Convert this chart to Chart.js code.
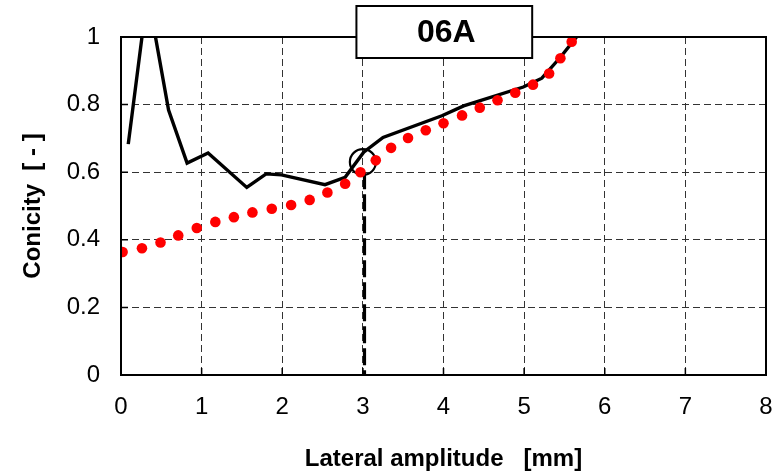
<!DOCTYPE html>
<html>
<head>
<meta charset="utf-8">
<script src="https://cdn.jsdelivr.net/npm/chart.js@4/dist/chart.umd.min.js"></script>
<style>
html,body{margin:0;padding:0;background:#fff;}
#wrap{width:774px;height:475px;position:relative;}
</style>
</head>
<body>
<div id="wrap"><canvas id="c" width="774" height="475"></canvas></div>
<script>
// Measured conicity curve (black line)
const measuredX = [0.09, 0.33, 0.59, 0.82, 1.08, 1.56, 1.80, 1.99, 2.53, 2.78, 3.01, 3.25, 3.98, 4.25, 4.99, 5.22, 5.45, 5.65];
const measuredY = [0.683, 1.13, 0.784, 0.627, 0.657, 0.555, 0.595, 0.592, 0.563, 0.585, 0.659, 0.703, 0.767, 0.796, 0.852, 0.878, 0.94, 1.0];
// Equivalent conicity (red dots)
const fitX = [0.02, 0.26, 0.49, 0.71, 0.94, 1.17, 1.40, 1.63, 1.87, 2.11, 2.34, 2.56, 2.78, 2.97, 3.16, 3.35, 3.56, 3.78, 4.00, 4.23, 4.45, 4.67, 4.89, 5.11, 5.31, 5.45, 5.59];
const fitY = [0.364, 0.375, 0.392, 0.413, 0.435, 0.453, 0.467, 0.481, 0.492, 0.503, 0.518, 0.540, 0.566, 0.600, 0.635, 0.672, 0.701, 0.724, 0.745, 0.768, 0.791, 0.813, 0.835, 0.859, 0.892, 0.937, 0.986];
// Highlighted point and its marker down to the axis
const markX = [3.0];
const markY = [0.63];
const dropX = [3.02, 3.02];
const dropY = [0.6, 0];
// Axis ticks
const xTicks = [0, 1, 2, 3, 4, 5, 6, 7, 8];
const yTicks = [0, 0.2, 0.4, 0.6, 0.8, 1];
const titleLabel = "06A";
const labelRange = [2.92, 5.10];

const pts = (xs, ys) => xs.map((x, i) => ({x: x, y: ys[i]}));

const frame = {
  id: 'frame',
  afterDatasetsDraw(chart) {
    const {ctx, chartArea: a, scales: {x, y}} = chart;
    ctx.save();
    ctx.strokeStyle = '#000';
    ctx.lineWidth = 1.5;
    ctx.setLineDash([]);
    ctx.beginPath();
    yTicks.forEach(v => { const py = y.getPixelForValue(v); ctx.moveTo(a.left, py); ctx.lineTo(a.left + 7, py); });
    xTicks.forEach(v => { const px = x.getPixelForValue(v); ctx.moveTo(px, a.bottom); ctx.lineTo(px, a.bottom - 7); });
    ctx.stroke();
    ctx.lineWidth = 2;
    ctx.strokeRect(a.left, a.top, a.right - a.left, a.bottom - a.top);
    // label box
    const bx0 = x.getPixelForValue(labelRange[0]);
    const bx1 = x.getPixelForValue(labelRange[1]);
    const by0 = a.top - 31, by1 = a.top + 21;
    ctx.fillStyle = '#fff';
    ctx.fillRect(bx0, by0, bx1 - bx0, by1 - by0);
    ctx.strokeRect(bx0, by0, bx1 - bx0, by1 - by0);
    ctx.fillStyle = '#000';
    ctx.font = 'bold 32px "Liberation Sans", Arial, sans-serif';
    ctx.textAlign = 'center';
    ctx.textBaseline = 'middle';
    ctx.fillText(titleLabel, (bx0 + bx1) / 2 + 2, (by0 + by1) / 2 + 1);
    ctx.restore();
  }
};

const gridOpts = {color: '#333', lineWidth: 1, drawTicks: false};
const fontFam = '"Liberation Sans", Arial, sans-serif';

new Chart(document.getElementById('c'), {
  type: 'scatter',
  data: {
    datasets: [
      {label: 'fit', data: pts(fitX, fitY), showLine: false, pointRadius: 5.3, pointHoverRadius: 5.3,
       backgroundColor: '#ff0000', borderColor: '#ff0000', borderWidth: 0},
      {label: 'mark', data: pts(markX, markY), showLine: false, pointRadius: 13, pointStyle: 'circle',
       backgroundColor: 'rgba(0,0,0,0)', borderColor: '#000', borderWidth: 2.2, clip: false},
      {label: 'measured', data: pts(measuredX, measuredY), showLine: true, pointRadius: 0,
       borderColor: '#000', borderWidth: 3.4, tension: 0, fill: false},
      {label: 'drop', data: pts(dropX, dropY), showLine: true, pointRadius: 0,
       borderColor: '#000', borderWidth: 3.2, borderDash: [17, 5], fill: false}
    ]
  },
  options: {
    responsive: false,
    animation: false,
    events: [],
    layout: {autoPadding: false, padding: {left: 0, right: 8, top: 37, bottom: 0}},
    plugins: {legend: {display: false}, tooltip: {enabled: false}},
    scales: {
      x: {
        type: 'linear', min: 0, max: 8,
        afterBuildTicks: s => { s.ticks = xTicks.map(v => ({value: v})); },
        afterFit: s => { s.height = 100; s.paddingLeft = 0; s.paddingRight = 0; },
        grid: Object.assign({}, gridOpts),
        border: {display: false, dash: [7, 4]},
        ticks: {color: '#000', padding: 18, maxRotation: 0, callback: v => String(v), font: {family: fontFam, size: 24}},
        title: {display: true, text: 'Lateral amplitude   [mm]', color: '#000', padding: {top: 0, bottom: 1},
                font: {family: fontFam, size: 24, weight: 'bold'}}
      },
      y: {
        type: 'linear', min: 0, max: 1,
        afterBuildTicks: s => { s.ticks = yTicks.map(v => ({value: v})); },
        afterFit: s => { s.width = 121; },
        grid: Object.assign({}, gridOpts),
        border: {display: false, dash: [7, 4]},
        ticks: {color: '#000', padding: 21, callback: v => String(v), font: {family: fontFam, size: 24}},
        title: {display: true, text: 'Conicity  [ - ]', color: '#000', padding: {top: 19, bottom: 0},
                font: {family: fontFam, size: 24, weight: 'bold'}}
      }
    }
  },
  plugins: [frame]
});
</script>
</body>
</html>
